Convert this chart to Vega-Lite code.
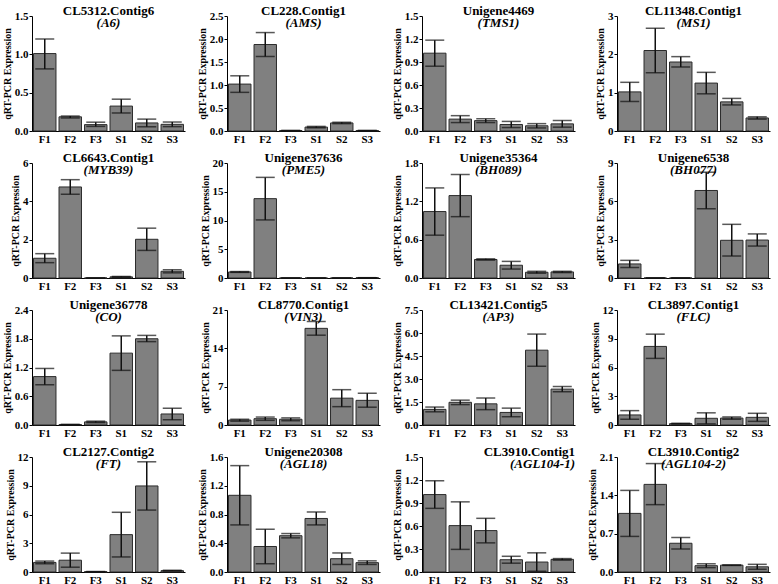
{
  "$schema": "https://vega.github.io/schema/vega-lite/v6.json",
  "padding": {"left": 2, "top": 5, "right": 2, "bottom": 0},
  "background": "white",
  "data": {"values": [
    {"g": "A6", "s": "F1", "m": 1.01, "lo": 0.81, "hi": 1.2},
    {"g": "A6", "s": "F2", "m": 0.185, "lo": 0.17, "hi": 0.195},
    {"g": "A6", "s": "F3", "m": 0.083, "lo": 0.06, "hi": 0.115},
    {"g": "A6", "s": "S1", "m": 0.325, "lo": 0.235, "hi": 0.415},
    {"g": "A6", "s": "S2", "m": 0.105, "lo": 0.055, "hi": 0.155},
    {"g": "A6", "s": "S3", "m": 0.087, "lo": 0.057, "hi": 0.117},
    {"g": "AMS", "s": "F1", "m": 1.02, "lo": 0.84, "hi": 1.2},
    {"g": "AMS", "s": "F2", "m": 1.88, "lo": 1.62, "hi": 2.14},
    {"g": "AMS", "s": "F3", "m": 0.01, "lo": 0.01, "hi": 0.01},
    {"g": "AMS", "s": "S1", "m": 0.085, "lo": 0.07, "hi": 0.1},
    {"g": "AMS", "s": "S2", "m": 0.175, "lo": 0.16, "hi": 0.19},
    {"g": "AMS", "s": "S3", "m": 0.01, "lo": 0.01, "hi": 0.01},
    {"g": "TMS1", "s": "F1", "m": 1.015, "lo": 0.845, "hi": 1.185},
    {"g": "TMS1", "s": "F2", "m": 0.155, "lo": 0.11, "hi": 0.2},
    {"g": "TMS1", "s": "F3", "m": 0.135, "lo": 0.11, "hi": 0.16},
    {"g": "TMS1", "s": "S1", "m": 0.085, "lo": 0.045, "hi": 0.125},
    {"g": "TMS1", "s": "S2", "m": 0.068, "lo": 0.04, "hi": 0.096},
    {"g": "TMS1", "s": "S3", "m": 0.093, "lo": 0.05, "hi": 0.137},
    {"g": "MS1", "s": "F1", "m": 1.02, "lo": 0.77, "hi": 1.27},
    {"g": "MS1", "s": "F2", "m": 2.1, "lo": 1.52, "hi": 2.68},
    {"g": "MS1", "s": "F3", "m": 1.8, "lo": 1.67, "hi": 1.94},
    {"g": "MS1", "s": "S1", "m": 1.25, "lo": 0.97, "hi": 1.53},
    {"g": "MS1", "s": "S2", "m": 0.76, "lo": 0.68, "hi": 0.85},
    {"g": "MS1", "s": "S3", "m": 0.34, "lo": 0.31, "hi": 0.37},
    {"g": "MYB39", "s": "F1", "m": 1.03, "lo": 0.8, "hi": 1.27},
    {"g": "MYB39", "s": "F2", "m": 4.75, "lo": 4.37, "hi": 5.13},
    {"g": "MYB39", "s": "F3", "m": 0, "lo": 0, "hi": 0},
    {"g": "MYB39", "s": "S1", "m": 0.06, "lo": 0.04, "hi": 0.08},
    {"g": "MYB39", "s": "S2", "m": 2.02, "lo": 1.44, "hi": 2.6},
    {"g": "MYB39", "s": "S3", "m": 0.35, "lo": 0.27, "hi": 0.43},
    {"g": "PME5", "s": "F1", "m": 1.05, "lo": 0.98, "hi": 1.12},
    {"g": "PME5", "s": "F2", "m": 13.8, "lo": 10.1, "hi": 17.5},
    {"g": "PME5", "s": "F3", "m": 0, "lo": 0, "hi": 0},
    {"g": "PME5", "s": "S1", "m": 0, "lo": 0, "hi": 0},
    {"g": "PME5", "s": "S2", "m": 0, "lo": 0, "hi": 0},
    {"g": "PME5", "s": "S3", "m": 0.05, "lo": 0.05, "hi": 0.05},
    {"g": "BH089", "s": "F1", "m": 1.04, "lo": 0.67, "hi": 1.41},
    {"g": "BH089", "s": "F2", "m": 1.29, "lo": 0.96, "hi": 1.62},
    {"g": "BH089", "s": "F3", "m": 0.29, "lo": 0.28, "hi": 0.3},
    {"g": "BH089", "s": "S1", "m": 0.2, "lo": 0.14, "hi": 0.26},
    {"g": "BH089", "s": "S2", "m": 0.09, "lo": 0.075, "hi": 0.105},
    {"g": "BH089", "s": "S3", "m": 0.095, "lo": 0.085, "hi": 0.105},
    {"g": "BH077", "s": "F1", "m": 1.1, "lo": 0.82, "hi": 1.38},
    {"g": "BH077", "s": "F2", "m": 0, "lo": 0, "hi": 0},
    {"g": "BH077", "s": "F3", "m": 0, "lo": 0, "hi": 0},
    {"g": "BH077", "s": "S1", "m": 6.85, "lo": 5.42, "hi": 8.28},
    {"g": "BH077", "s": "S2", "m": 2.95, "lo": 1.72, "hi": 4.2},
    {"g": "BH077", "s": "S3", "m": 2.97, "lo": 2.5, "hi": 3.45},
    {"g": "CO", "s": "F1", "m": 1.01, "lo": 0.84, "hi": 1.18},
    {"g": "CO", "s": "F2", "m": 0.01, "lo": 0.01, "hi": 0.01},
    {"g": "CO", "s": "F3", "m": 0.065, "lo": 0.05, "hi": 0.08},
    {"g": "CO", "s": "S1", "m": 1.5, "lo": 1.14, "hi": 1.86},
    {"g": "CO", "s": "S2", "m": 1.8, "lo": 1.74, "hi": 1.87},
    {"g": "CO", "s": "S3", "m": 0.23, "lo": 0.11, "hi": 0.35},
    {"g": "VIN3", "s": "F1", "m": 0.9, "lo": 0.7, "hi": 1.05},
    {"g": "VIN3", "s": "F2", "m": 1.15, "lo": 0.85, "hi": 1.45},
    {"g": "VIN3", "s": "F3", "m": 1.05, "lo": 0.78, "hi": 1.3},
    {"g": "VIN3", "s": "S1", "m": 17.65, "lo": 16.4, "hi": 18.9},
    {"g": "VIN3", "s": "S2", "m": 4.9, "lo": 3.35, "hi": 6.45},
    {"g": "VIN3", "s": "S3", "m": 4.5, "lo": 3.25, "hi": 5.8},
    {"g": "AP3", "s": "F1", "m": 1.02, "lo": 0.86, "hi": 1.17},
    {"g": "AP3", "s": "F2", "m": 1.48, "lo": 1.33, "hi": 1.62},
    {"g": "AP3", "s": "F3", "m": 1.38, "lo": 1.0, "hi": 1.76},
    {"g": "AP3", "s": "S1", "m": 0.82, "lo": 0.54, "hi": 1.1},
    {"g": "AP3", "s": "S2", "m": 4.88, "lo": 3.83, "hi": 5.93},
    {"g": "AP3", "s": "S3", "m": 2.34, "lo": 2.17, "hi": 2.51},
    {"g": "FLC", "s": "F1", "m": 1.05, "lo": 0.6, "hi": 1.5},
    {"g": "FLC", "s": "F2", "m": 8.2, "lo": 6.95, "hi": 9.48},
    {"g": "FLC", "s": "F3", "m": 0.14, "lo": 0.1, "hi": 0.18},
    {"g": "FLC", "s": "S1", "m": 0.7, "lo": 0.12, "hi": 1.27},
    {"g": "FLC", "s": "S2", "m": 0.72, "lo": 0.6, "hi": 0.84},
    {"g": "FLC", "s": "S3", "m": 0.8, "lo": 0.38, "hi": 1.22},
    {"g": "FT", "s": "F1", "m": 1.0, "lo": 0.86, "hi": 1.14},
    {"g": "FT", "s": "F2", "m": 1.23, "lo": 0.5, "hi": 1.97},
    {"g": "FT", "s": "F3", "m": 0.04, "lo": 0.04, "hi": 0.04},
    {"g": "FT", "s": "S1", "m": 3.9, "lo": 1.57, "hi": 6.23},
    {"g": "FT", "s": "S2", "m": 8.98, "lo": 6.46, "hi": 11.5},
    {"g": "FT", "s": "S3", "m": 0.14, "lo": 0.1, "hi": 0.18},
    {"g": "AGL18", "s": "F1", "m": 1.067, "lo": 0.655, "hi": 1.48},
    {"g": "AGL18", "s": "F2", "m": 0.355, "lo": 0.115, "hi": 0.595},
    {"g": "AGL18", "s": "F3", "m": 0.505, "lo": 0.475, "hi": 0.535},
    {"g": "AGL18", "s": "S1", "m": 0.745, "lo": 0.655, "hi": 0.835},
    {"g": "AGL18", "s": "S2", "m": 0.185, "lo": 0.105, "hi": 0.265},
    {"g": "AGL18", "s": "S3", "m": 0.13, "lo": 0.105, "hi": 0.155},
    {"g": "AGL104-1", "s": "F1", "m": 1.01, "lo": 0.83, "hi": 1.19},
    {"g": "AGL104-1", "s": "F2", "m": 0.605, "lo": 0.295, "hi": 0.915},
    {"g": "AGL104-1", "s": "F3", "m": 0.54, "lo": 0.38, "hi": 0.7},
    {"g": "AGL104-1", "s": "S1", "m": 0.16, "lo": 0.115, "hi": 0.205},
    {"g": "AGL104-1", "s": "S2", "m": 0.13, "lo": 0.01, "hi": 0.25},
    {"g": "AGL104-1", "s": "S3", "m": 0.165, "lo": 0.155, "hi": 0.175},
    {"g": "AGL104-2", "s": "F1", "m": 1.07, "lo": 0.65, "hi": 1.49},
    {"g": "AGL104-2", "s": "F2", "m": 1.6, "lo": 1.23, "hi": 1.98},
    {"g": "AGL104-2", "s": "F3", "m": 0.525, "lo": 0.42, "hi": 0.63},
    {"g": "AGL104-2", "s": "S1", "m": 0.115, "lo": 0.08, "hi": 0.15},
    {"g": "AGL104-2", "s": "S2", "m": 0.125, "lo": 0.12, "hi": 0.13},
    {"g": "AGL104-2", "s": "S3", "m": 0.095, "lo": 0.05, "hi": 0.14}
  ]},
  "columns": 4,
  "spacing": {"row": 8, "column": 12},
  "concat": [
    {
      "title": {"text": "CL5312.Contig6", "subtitle": "(A6)"},
      "width": 153, "height": 115,
      "transform": [{"filter": "datum.g == 'A6'"}],
      "encoding": {"x": {"field": "s", "type": "nominal", "title": null}},
      "layer": [
        {"mark": {"type": "bar", "color": "#808080", "stroke": "#2b2b2b", "strokeWidth": 1},
         "encoding": {"y": {"field": "m", "type": "quantitative", "title": "qRT-PCR Expression",
           "scale": {"domain": [0, 1.5], "nice": false}, "axis": {"values": [0, 0.5, 1, 1.5], "format": ".1f"}}}},
        {"mark": {"type": "errorbar", "color": "#111", "thickness": 1.5, "ticks": {"size": 19}},
         "encoding": {"y": {"field": "lo", "type": "quantitative", "title": "qRT-PCR Expression",
           "scale": {"domain": [0, 1.5], "nice": false}, "axis": {"values": [0, 0.5, 1, 1.5], "format": ".1f"}}, "y2": {"field": "hi"}}}
      ]
    },
    {
      "title": {"text": "CL228.Contig1", "subtitle": "(AMS)"},
      "width": 153, "height": 115,
      "transform": [{"filter": "datum.g == 'AMS'"}],
      "encoding": {"x": {"field": "s", "type": "nominal", "title": null}},
      "layer": [
        {"mark": {"type": "bar", "color": "#808080", "stroke": "#2b2b2b", "strokeWidth": 1},
         "encoding": {"y": {"field": "m", "type": "quantitative", "title": "qRT-PCR Expression",
           "scale": {"domain": [0, 2.5], "nice": false}, "axis": {"values": [0, 0.5, 1, 1.5, 2, 2.5], "format": ".1f"}}}},
        {"mark": {"type": "errorbar", "color": "#111", "thickness": 1.5, "ticks": {"size": 19}},
         "encoding": {"y": {"field": "lo", "type": "quantitative", "title": "qRT-PCR Expression",
           "scale": {"domain": [0, 2.5], "nice": false}, "axis": {"values": [0, 0.5, 1, 1.5, 2, 2.5], "format": ".1f"}}, "y2": {"field": "hi"}}}
      ]
    },
    {
      "title": {"text": "Unigene4469", "subtitle": "(TMS1)"},
      "width": 153, "height": 115,
      "transform": [{"filter": "datum.g == 'TMS1'"}],
      "encoding": {"x": {"field": "s", "type": "nominal", "title": null}},
      "layer": [
        {"mark": {"type": "bar", "color": "#808080", "stroke": "#2b2b2b", "strokeWidth": 1},
         "encoding": {"y": {"field": "m", "type": "quantitative", "title": "qRT-PCR Expression",
           "scale": {"domain": [0, 1.5], "nice": false}, "axis": {"values": [0, 0.3, 0.6, 0.9, 1.2, 1.5], "format": ".1f"}}}},
        {"mark": {"type": "errorbar", "color": "#111", "thickness": 1.5, "ticks": {"size": 19}},
         "encoding": {"y": {"field": "lo", "type": "quantitative", "title": "qRT-PCR Expression",
           "scale": {"domain": [0, 1.5], "nice": false}, "axis": {"values": [0, 0.3, 0.6, 0.9, 1.2, 1.5], "format": ".1f"}}, "y2": {"field": "hi"}}}
      ]
    },
    {
      "title": {"text": "CL11348.Contig1", "subtitle": "(MS1)"},
      "width": 153, "height": 115,
      "transform": [{"filter": "datum.g == 'MS1'"}],
      "encoding": {"x": {"field": "s", "type": "nominal", "title": null}},
      "layer": [
        {"mark": {"type": "bar", "color": "#808080", "stroke": "#2b2b2b", "strokeWidth": 1},
         "encoding": {"y": {"field": "m", "type": "quantitative", "title": "qRT-PCR Expression",
           "scale": {"domain": [0, 3], "nice": false}, "axis": {"values": [0, 1, 2, 3], "format": "d"}}}},
        {"mark": {"type": "errorbar", "color": "#111", "thickness": 1.5, "ticks": {"size": 19}},
         "encoding": {"y": {"field": "lo", "type": "quantitative", "title": "qRT-PCR Expression",
           "scale": {"domain": [0, 3], "nice": false}, "axis": {"values": [0, 1, 2, 3], "format": "d"}}, "y2": {"field": "hi"}}}
      ]
    },
    {
      "title": {"text": "CL6643.Contig1", "subtitle": "(MYB39)"},
      "width": 153, "height": 115,
      "transform": [{"filter": "datum.g == 'MYB39'"}],
      "encoding": {"x": {"field": "s", "type": "nominal", "title": null}},
      "layer": [
        {"mark": {"type": "bar", "color": "#808080", "stroke": "#2b2b2b", "strokeWidth": 1},
         "encoding": {"y": {"field": "m", "type": "quantitative", "title": "qRT-PCR Expression",
           "scale": {"domain": [0, 6], "nice": false}, "axis": {"values": [0, 2, 4, 6], "format": "d"}}}},
        {"mark": {"type": "errorbar", "color": "#111", "thickness": 1.5, "ticks": {"size": 19}},
         "encoding": {"y": {"field": "lo", "type": "quantitative", "title": "qRT-PCR Expression",
           "scale": {"domain": [0, 6], "nice": false}, "axis": {"values": [0, 2, 4, 6], "format": "d"}}, "y2": {"field": "hi"}}}
      ]
    },
    {
      "title": {"text": "Unigene37636", "subtitle": "(PME5)"},
      "width": 153, "height": 115,
      "transform": [{"filter": "datum.g == 'PME5'"}],
      "encoding": {"x": {"field": "s", "type": "nominal", "title": null}},
      "layer": [
        {"mark": {"type": "bar", "color": "#808080", "stroke": "#2b2b2b", "strokeWidth": 1},
         "encoding": {"y": {"field": "m", "type": "quantitative", "title": "qRT-PCR Expression",
           "scale": {"domain": [0, 20], "nice": false}, "axis": {"values": [0, 5, 10, 15, 20], "format": "d"}}}},
        {"mark": {"type": "errorbar", "color": "#111", "thickness": 1.5, "ticks": {"size": 19}},
         "encoding": {"y": {"field": "lo", "type": "quantitative", "title": "qRT-PCR Expression",
           "scale": {"domain": [0, 20], "nice": false}, "axis": {"values": [0, 5, 10, 15, 20], "format": "d"}}, "y2": {"field": "hi"}}}
      ]
    },
    {
      "title": {"text": "Unigene35364", "subtitle": "(BH089)"},
      "width": 153, "height": 115,
      "transform": [{"filter": "datum.g == 'BH089'"}],
      "encoding": {"x": {"field": "s", "type": "nominal", "title": null}},
      "layer": [
        {"mark": {"type": "bar", "color": "#808080", "stroke": "#2b2b2b", "strokeWidth": 1},
         "encoding": {"y": {"field": "m", "type": "quantitative", "title": "qRT-PCR Expression",
           "scale": {"domain": [0, 1.8], "nice": false}, "axis": {"values": [0, 0.6, 1.2, 1.8], "format": ".1f"}}}},
        {"mark": {"type": "errorbar", "color": "#111", "thickness": 1.5, "ticks": {"size": 19}},
         "encoding": {"y": {"field": "lo", "type": "quantitative", "title": "qRT-PCR Expression",
           "scale": {"domain": [0, 1.8], "nice": false}, "axis": {"values": [0, 0.6, 1.2, 1.8], "format": ".1f"}}, "y2": {"field": "hi"}}}
      ]
    },
    {
      "title": {"text": "Unigene6538", "subtitle": "(BH077)"},
      "width": 153, "height": 115,
      "transform": [{"filter": "datum.g == 'BH077'"}],
      "encoding": {"x": {"field": "s", "type": "nominal", "title": null}},
      "layer": [
        {"mark": {"type": "bar", "color": "#808080", "stroke": "#2b2b2b", "strokeWidth": 1},
         "encoding": {"y": {"field": "m", "type": "quantitative", "title": "qRT-PCR Expression",
           "scale": {"domain": [0, 9], "nice": false}, "axis": {"values": [0, 3, 6, 9], "format": "d"}}}},
        {"mark": {"type": "errorbar", "color": "#111", "thickness": 1.5, "ticks": {"size": 19}},
         "encoding": {"y": {"field": "lo", "type": "quantitative", "title": "qRT-PCR Expression",
           "scale": {"domain": [0, 9], "nice": false}, "axis": {"values": [0, 3, 6, 9], "format": "d"}}, "y2": {"field": "hi"}}}
      ]
    },
    {
      "title": {"text": "Unigene36778", "subtitle": "(CO)"},
      "width": 153, "height": 115,
      "transform": [{"filter": "datum.g == 'CO'"}],
      "encoding": {"x": {"field": "s", "type": "nominal", "title": null}},
      "layer": [
        {"mark": {"type": "bar", "color": "#808080", "stroke": "#2b2b2b", "strokeWidth": 1},
         "encoding": {"y": {"field": "m", "type": "quantitative", "title": "qRT-PCR Expression",
           "scale": {"domain": [0, 2.4], "nice": false}, "axis": {"values": [0, 0.6, 1.2, 1.8, 2.4], "format": ".1f"}}}},
        {"mark": {"type": "errorbar", "color": "#111", "thickness": 1.5, "ticks": {"size": 19}},
         "encoding": {"y": {"field": "lo", "type": "quantitative", "title": "qRT-PCR Expression",
           "scale": {"domain": [0, 2.4], "nice": false}, "axis": {"values": [0, 0.6, 1.2, 1.8, 2.4], "format": ".1f"}}, "y2": {"field": "hi"}}}
      ]
    },
    {
      "title": {"text": "CL8770.Contig1", "subtitle": "(VIN3)"},
      "width": 153, "height": 115,
      "transform": [{"filter": "datum.g == 'VIN3'"}],
      "encoding": {"x": {"field": "s", "type": "nominal", "title": null}},
      "layer": [
        {"mark": {"type": "bar", "color": "#808080", "stroke": "#2b2b2b", "strokeWidth": 1},
         "encoding": {"y": {"field": "m", "type": "quantitative", "title": "qRT-PCR Expression",
           "scale": {"domain": [0, 21], "nice": false}, "axis": {"values": [0, 7, 14, 21], "format": "d"}}}},
        {"mark": {"type": "errorbar", "color": "#111", "thickness": 1.5, "ticks": {"size": 19}},
         "encoding": {"y": {"field": "lo", "type": "quantitative", "title": "qRT-PCR Expression",
           "scale": {"domain": [0, 21], "nice": false}, "axis": {"values": [0, 7, 14, 21], "format": "d"}}, "y2": {"field": "hi"}}}
      ]
    },
    {
      "title": {"text": "CL13421.Contig5", "subtitle": "(AP3)"},
      "width": 153, "height": 115,
      "transform": [{"filter": "datum.g == 'AP3'"}],
      "encoding": {"x": {"field": "s", "type": "nominal", "title": null}},
      "layer": [
        {"mark": {"type": "bar", "color": "#808080", "stroke": "#2b2b2b", "strokeWidth": 1},
         "encoding": {"y": {"field": "m", "type": "quantitative", "title": "qRT-PCR Expression",
           "scale": {"domain": [0, 7.5], "nice": false}, "axis": {"values": [0, 1.5, 3, 4.5, 6, 7.5], "format": ".1f"}}}},
        {"mark": {"type": "errorbar", "color": "#111", "thickness": 1.5, "ticks": {"size": 19}},
         "encoding": {"y": {"field": "lo", "type": "quantitative", "title": "qRT-PCR Expression",
           "scale": {"domain": [0, 7.5], "nice": false}, "axis": {"values": [0, 1.5, 3, 4.5, 6, 7.5], "format": ".1f"}}, "y2": {"field": "hi"}}}
      ]
    },
    {
      "title": {"text": "CL3897.Contig1", "subtitle": "(FLC)"},
      "width": 153, "height": 115,
      "transform": [{"filter": "datum.g == 'FLC'"}],
      "encoding": {"x": {"field": "s", "type": "nominal", "title": null}},
      "layer": [
        {"mark": {"type": "bar", "color": "#808080", "stroke": "#2b2b2b", "strokeWidth": 1},
         "encoding": {"y": {"field": "m", "type": "quantitative", "title": "qRT-PCR Expression",
           "scale": {"domain": [0, 12], "nice": false}, "axis": {"values": [0, 3, 6, 9, 12], "format": "d"}}}},
        {"mark": {"type": "errorbar", "color": "#111", "thickness": 1.5, "ticks": {"size": 19}},
         "encoding": {"y": {"field": "lo", "type": "quantitative", "title": "qRT-PCR Expression",
           "scale": {"domain": [0, 12], "nice": false}, "axis": {"values": [0, 3, 6, 9, 12], "format": "d"}}, "y2": {"field": "hi"}}}
      ]
    },
    {
      "title": {"text": "CL2127.Contig2", "subtitle": "(FT)"},
      "width": 153, "height": 115,
      "transform": [{"filter": "datum.g == 'FT'"}],
      "encoding": {"x": {"field": "s", "type": "nominal", "title": null}},
      "layer": [
        {"mark": {"type": "bar", "color": "#808080", "stroke": "#2b2b2b", "strokeWidth": 1},
         "encoding": {"y": {"field": "m", "type": "quantitative", "title": "qRT-PCR Expression",
           "scale": {"domain": [0, 12], "nice": false}, "axis": {"values": [0, 3, 6, 9, 12], "format": "d"}}}},
        {"mark": {"type": "errorbar", "color": "#111", "thickness": 1.5, "ticks": {"size": 19}},
         "encoding": {"y": {"field": "lo", "type": "quantitative", "title": "qRT-PCR Expression",
           "scale": {"domain": [0, 12], "nice": false}, "axis": {"values": [0, 3, 6, 9, 12], "format": "d"}}, "y2": {"field": "hi"}}}
      ]
    },
    {
      "title": {"text": "Unigene20308", "subtitle": "(AGL18)"},
      "width": 153, "height": 115,
      "transform": [{"filter": "datum.g == 'AGL18'"}],
      "encoding": {"x": {"field": "s", "type": "nominal", "title": null}},
      "layer": [
        {"mark": {"type": "bar", "color": "#808080", "stroke": "#2b2b2b", "strokeWidth": 1},
         "encoding": {"y": {"field": "m", "type": "quantitative", "title": "qRT-PCR Expression",
           "scale": {"domain": [0, 1.6], "nice": false}, "axis": {"values": [0, 0.4, 0.8, 1.2, 1.6], "format": ".1f"}}}},
        {"mark": {"type": "errorbar", "color": "#111", "thickness": 1.5, "ticks": {"size": 19}},
         "encoding": {"y": {"field": "lo", "type": "quantitative", "title": "qRT-PCR Expression",
           "scale": {"domain": [0, 1.6], "nice": false}, "axis": {"values": [0, 0.4, 0.8, 1.2, 1.6], "format": ".1f"}}, "y2": {"field": "hi"}}}
      ]
    },
    {
      "title": {"text": "CL3910.Contig1", "subtitle": "(AGL104-1)", "anchor": "end"},
      "width": 153, "height": 115,
      "transform": [{"filter": "datum.g == 'AGL104-1'"}],
      "encoding": {"x": {"field": "s", "type": "nominal", "title": null}},
      "layer": [
        {"mark": {"type": "bar", "color": "#808080", "stroke": "#2b2b2b", "strokeWidth": 1},
         "encoding": {"y": {"field": "m", "type": "quantitative", "title": "qRT-PCR Expression",
           "scale": {"domain": [0, 1.5], "nice": false}, "axis": {"values": [0, 0.3, 0.6, 0.9, 1.2, 1.5], "format": ".1f"}}}},
        {"mark": {"type": "errorbar", "color": "#111", "thickness": 1.5, "ticks": {"size": 19}},
         "encoding": {"y": {"field": "lo", "type": "quantitative", "title": "qRT-PCR Expression",
           "scale": {"domain": [0, 1.5], "nice": false}, "axis": {"values": [0, 0.3, 0.6, 0.9, 1.2, 1.5], "format": ".1f"}}, "y2": {"field": "hi"}}}
      ]
    },
    {
      "title": {"text": "CL3910.Contig2", "subtitle": "(AGL104-2)"},
      "width": 153, "height": 115,
      "transform": [{"filter": "datum.g == 'AGL104-2'"}],
      "encoding": {"x": {"field": "s", "type": "nominal", "title": null}},
      "layer": [
        {"mark": {"type": "bar", "color": "#808080", "stroke": "#2b2b2b", "strokeWidth": 1},
         "encoding": {"y": {"field": "m", "type": "quantitative", "title": "qRT-PCR Expression",
           "scale": {"domain": [0, 2.1], "nice": false}, "axis": {"values": [0, 0.7, 1.4, 2.1], "format": ".1f"}}}},
        {"mark": {"type": "errorbar", "color": "#111", "thickness": 1.5, "ticks": {"size": 19}},
         "encoding": {"y": {"field": "lo", "type": "quantitative", "title": "qRT-PCR Expression",
           "scale": {"domain": [0, 2.1], "nice": false}, "axis": {"values": [0, 0.7, 1.4, 2.1], "format": ".1f"}}, "y2": {"field": "hi"}}}
      ]
    }
  ],
  "config": {
    "view": {"stroke": null},
    "font": "Liberation Serif",
    "scale": {"bandPaddingInner": 0.12, "bandPaddingOuter": 0.06},
    "title": {"font": "Liberation Serif", "fontSize": 13, "fontWeight": "bold", "color": "#000",
      "subtitleFont": "Liberation Serif", "subtitleFontSize": 13, "subtitleFontWeight": "bold",
      "subtitleFontStyle": "italic", "subtitleColor": "#000", "subtitlePadding": -1,
      "offset": -20, "anchor": "middle", "frame": "group"},
    "axis": {"grid": false, "domainColor": "#000", "domainWidth": 1, "tickColor": "#000",
      "labelFont": "Liberation Serif", "labelFontWeight": "bold", "labelFontSize": 11, "labelColor": "#000",
      "labelOverlap": false,
      "titleFont": "Liberation Serif", "titleFontWeight": "bold", "titleFontSize": 10, "titleColor": "#000"},
    "axisX": {"ticks": false, "labelAngle": 0, "labelPadding": 2},
    "axisY": {"tickSize": 3, "labelPadding": 1, "titlePadding": 2}
  }
}
